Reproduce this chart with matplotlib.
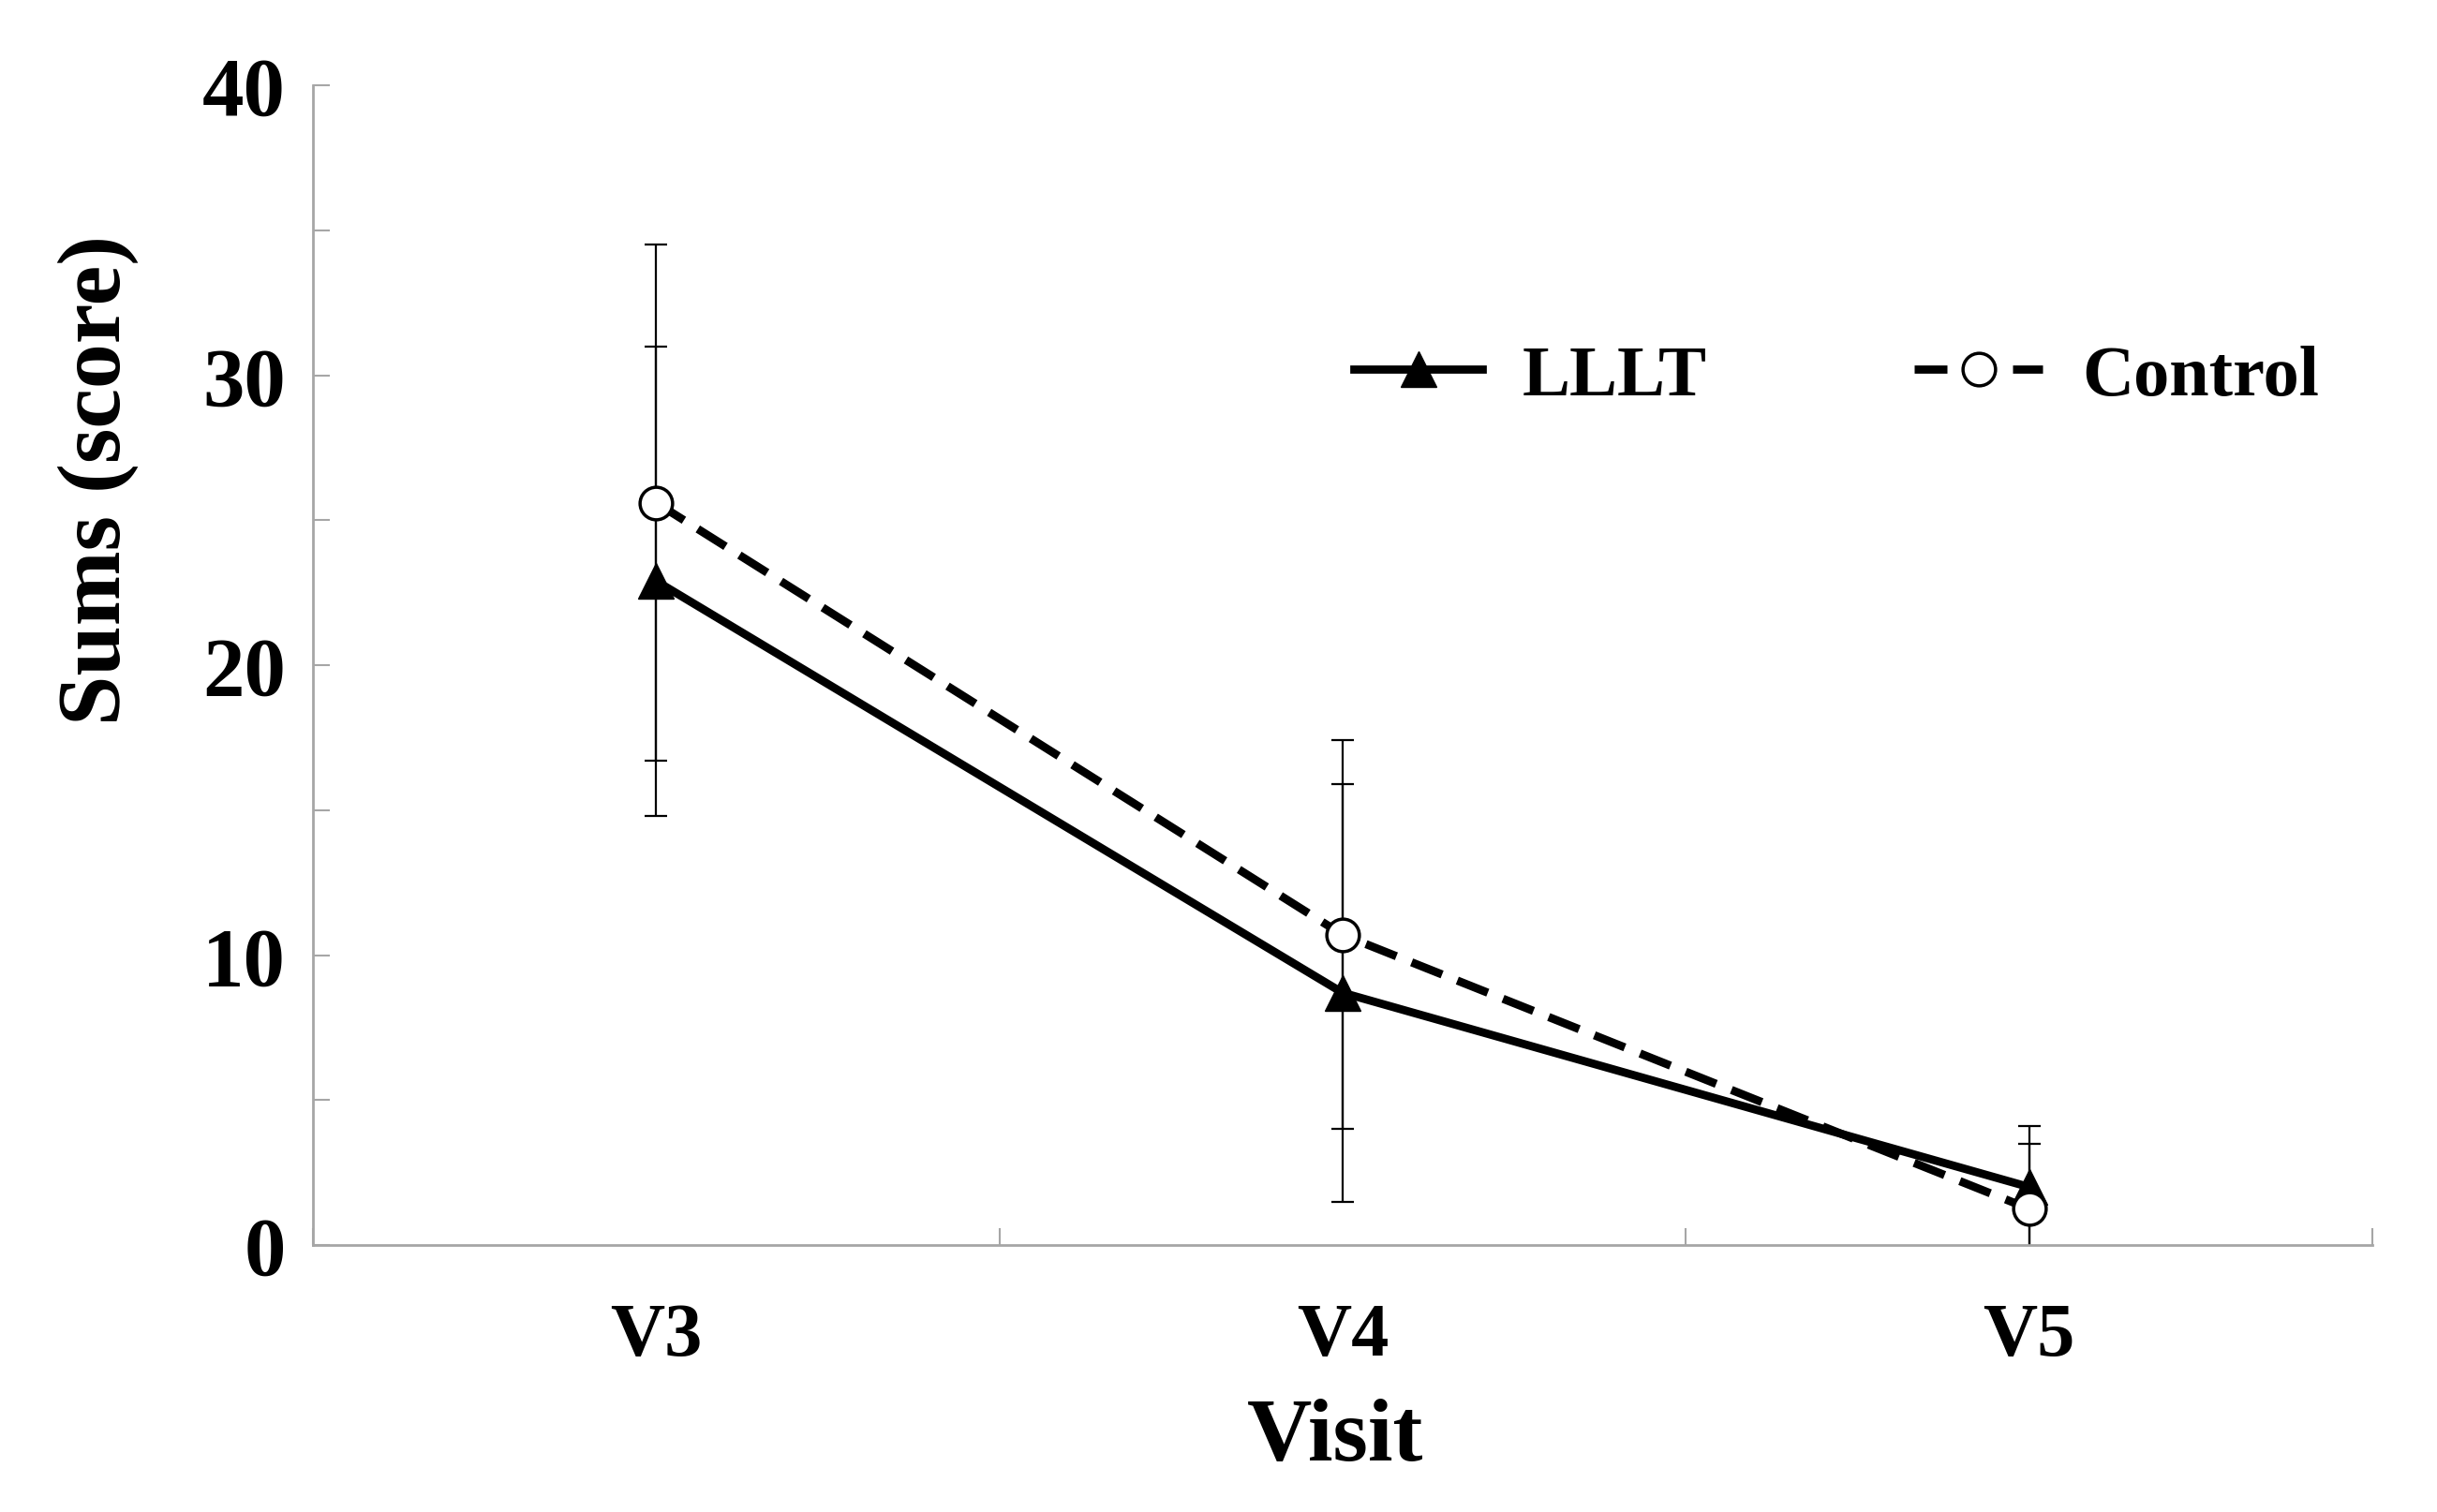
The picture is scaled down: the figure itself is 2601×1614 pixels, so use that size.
import numpy as np
import matplotlib
matplotlib.use("Agg")
import matplotlib.pyplot as plt
from matplotlib.ticker import MultipleLocator, FixedLocator

plt.rcParams['font.family'] = ['Liberation Serif', 'DejaVu Serif']
plt.rcParams['font.weight'] = 'bold'

# values
visits = ['V3', 'V4', 'V5']
lllt_mean = [22.9, 8.7, 2.0]
lllt_err = [8.1, 7.2, 2.1]
control_mean = [25.6, 10.7, 1.25]
control_err = [8.9, 6.7, 2.25]

W, H = 2601, 1615
fig = plt.figure(figsize=(W / 100, H / 100), dpi=100)
ax = fig.add_axes([334 / W, 1 - 1330 / H, (2532 - 334) / W, (1330 - 92) / H])

x = np.arange(1, len(visits) + 1)
eb_kw = dict(fmt='none', ecolor='black', elinewidth=1.6, capsize=8.3, capthick=1.6)
ax.errorbar(x, lllt_mean, yerr=lllt_err, zorder=2, **eb_kw)
ax.errorbar(x, control_mean, yerr=control_err, zorder=2, **eb_kw)

ax.plot(x, lllt_mean, color='black', lw=6.3, marker='^', ms=27,
        mfc='black', mec='black', mew=1, label='LLLT', zorder=3)
ax.plot(x, control_mean, color='black', lw=6.3, ls=(0, (4, 2)), marker='o',
        ms=25, mfc='white', mec='black', mew=2.5, label='Control', zorder=4)

ax.set_xlim(0.5, 3.5)
ax.set_ylim(0, 40)

grey = '#a6a6a6'
for s in ['top', 'right']:
    ax.spines[s].set_visible(False)
for s in ['left', 'bottom']:
    ax.spines[s].set_color(grey)
    ax.spines[s].set_linewidth(2)

ax.set_xticks(x)
ax.set_xticklabels(visits)
ax.xaxis.set_minor_locator(FixedLocator([0.5, 1.5, 2.5, 3.5]))
ax.tick_params(axis='x', which='major', length=0, pad=44, labelsize=58)
ax.tick_params(axis='x', which='minor', direction='in', length=13, width=1.5, color=grey)

ax.yaxis.set_major_locator(MultipleLocator(10))
ax.yaxis.set_minor_locator(MultipleLocator(5))
ax.tick_params(axis='y', which='both', direction='in', length=13, width=1.5, color=grey)
ax.tick_params(axis='y', which='major', pad=21, labelsize=64)

fig.text(1425 / W, 1 - 1559 / H, 'Visit', ha='center', va='baseline', fontsize=69)
fig.text(105 / W, 1 - 512 / H, 'Sums (score)', ha='center', va='center',
         rotation=90, fontsize=69)

ax.legend(loc='center', bbox_to_anchor=(1960 / W, 1 - 403 / H),
          bbox_transform=fig.transFigure, ncol=2, frameon=False, fontsize=55,
          handlelength=1.8, handletextpad=0.55, columnspacing=2.9,
          borderpad=0, numpoints=1)

fig.savefig('out.png', dpi=100)
